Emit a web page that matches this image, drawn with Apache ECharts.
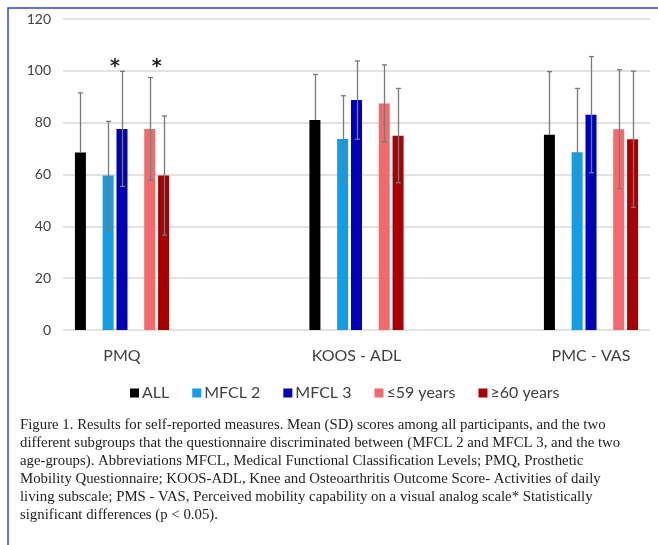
<!DOCTYPE html>
<html>
<head>
<meta charset="utf-8">
<script src="https://cdn.jsdelivr.net/npm/echarts@6/dist/echarts.min.js"></script>
<style>
  html, body { margin: 0; padding: 0; background: #fff; }
  #main { width: 658px; height: 545px; }
</style>
</head>
<body>
<div id="main"></div>
<script>
// data
var categories = ['PMQ', 'KOOS - ADL', 'PMC - VAS'];
var allMean   = [68.5, 81.0, 75.3];
var allSd     = [23.0, 17.6, 24.4];
var mfcl2Mean = [59.6, 73.7, 68.6];
var mfcl2Sd   = [20.9, 16.7, 24.6];
var mfcl3Mean = [77.6, 88.7, 83.1];
var mfcl3Sd   = [22.2, 15.1, 22.4];
var youngMean = [77.6, 87.4, 77.5];
var youngSd   = [19.8, 14.9, 22.9];
var oldMean   = [59.6, 75.0, 73.6];
var oldSd     = [23.0, 18.2, 26.3];
var yMin = 0, yMax = 120, yStep = 20;
// significance stars: [category, slot a, slot b, value]
var sigMarks = [[0, 2, 3, 101.5], [0, 5, 6, 101.5]];

var caption = [
  'Figure 1. Results for self-reported measures. Mean (SD) scores among all participants, and the two',
  'different subgroups that the questionnaire discriminated between (MFCL 2 and MFCL 3, and the two',
  'age-groups). Abbreviations MFCL, Medical Functional Classification Levels; PMQ, Prosthetic',
  'Mobility Questionnaire; KOOS-ADL, Knee and Osteoarthritis Outcome Score- Activities of daily',
  'living subscale; PMS - VAS, Perceived mobility capability on a visual analog scale* Statistically',
  'significant differences (p < 0.05).'
];

var chart = echarts.init(document.getElementById('main'));

var BAR_W = 11, BAR_GAP = '26%';
// slots inside one category, null = empty slot
// upOnly: the lower whisker disappears into the black bar in the figure
var groups = [
  { name: 'ALL', color: '#000000', mean: allMean, sd: allSd, upOnly: true },
  null,
  { name: 'MFCL 2', color: '#139de6', mean: mfcl2Mean, sd: mfcl2Sd },
  { name: 'MFCL 3', color: '#0000bb', mean: mfcl3Mean, sd: mfcl3Sd },
  null,
  { name: '≤59 years', color: '#f46a6c', mean: youngMean, sd: youngSd },
  { name: '≥60 years', color: '#a80000', mean: oldMean, sd: oldSd }
];

var series = [];
var errData = [];
var legendNames = [];
groups.forEach(function (g, slot) {
  if (!g) {
    series.push({ type: 'bar', name: 'gap' + slot, data: categories.map(function () { return '-'; }),
      barWidth: BAR_W, barGap: BAR_GAP, silent: true });
    return;
  }
  legendNames.push(g.name);
  series.push({
    type: 'bar', name: g.name, data: g.mean,
    barWidth: BAR_W, barGap: BAR_GAP,
    itemStyle: { color: g.color }
  });
  g.mean.forEach(function (m, c) { errData.push([c, slot, m, g.sd[c], g.upOnly ? 1 : 0]); });
});

function slotX(api, cat, slot) {
  var layout = api.barLayout({ count: groups.length, barWidth: BAR_W, barGap: BAR_GAP });
  return api.coord([cat, 0])[0] + layout[slot].offsetCenter;
}

// error bars
series.push({
  type: 'custom', name: 'sd', z: 5, silent: true,
  data: errData,
  renderItem: function (params, api) {
    var c = api.value(0), s = api.value(1), m = api.value(2), sd = api.value(3);
    var x = Math.round(slotX(api, c, s)) + 0.5;
    var y1 = api.coord([c, m + sd])[1];
    var y2 = api.value(4) ? api.coord([c, m])[1] : api.coord([c, m - sd])[1];
    var st = { stroke: '#7a7a7a', lineWidth: 1.3 };
    var kids = [
      { type: 'line', shape: { x1: x, y1: y1, x2: x, y2: y2 }, style: st },
      { type: 'line', shape: { x1: x - 2.5, y1: y1, x2: x + 2.5, y2: y1 }, style: st }
    ];
    if (!api.value(4)) {
      kids.push({ type: 'line', shape: { x1: x - 2.5, y1: y2, x2: x + 2.5, y2: y2 }, style: st });
    }
    return { type: 'group', children: kids };
  }
});

// asterisks
series.push({
  type: 'custom', name: 'sig', z: 6, silent: true,
  data: sigMarks,
  renderItem: function (params, api) {
    var c = api.value(0);
    var x = (slotX(api, c, api.value(1)) + slotX(api, c, api.value(2))) / 2;
    var y = api.coord([c, api.value(3)])[1];
    return { type: 'text', x: x, y: y, style: {
      text: '*', fill: '#222', font: 'bold 19px "DejaVu Sans"', align: 'center', verticalAlign: 'middle'
    } };
  }
});

var option = {
  backgroundColor: '#fff',
  animation: false,
  legend: {
    data: legendNames, left: 125, top: 380, icon: 'rect',
    itemWidth: 9, itemHeight: 9, itemGap: 23,
    textStyle: { fontFamily: 'Lato', fontSize: 16, color: '#404040', padding: [0, 0, 0, -2] }
  },
  grid: [
    // bar grid: category centres sit on the grid edges and middle
    { left: 122, width: 469, top: 19, height: 311 },
    // visible frame: gridlines and y labels
    { left: 63, width: 587, top: 19, height: 311 }
  ],
  xAxis: [
    { type: 'category', data: categories, gridIndex: 0, boundaryGap: false,
      axisLine: { show: false }, axisTick: { show: false },
      axisLabel: { margin: 18, fontFamily: 'Lato', fontSize: 16, color: '#404040' } },
    { type: 'value', gridIndex: 1, show: false }
  ],
  yAxis: [
    { type: 'value', gridIndex: 0, min: yMin, max: yMax, show: false, splitLine: { show: false } },
    { type: 'value', gridIndex: 1, min: yMin, max: yMax, interval: yStep,
      axisLine: { show: false }, axisTick: { show: false },
      splitLine: { lineStyle: { color: '#d9d9d9', width: 1.5 } },
      axisLabel: { margin: 12, fontFamily: 'Lato', fontSize: 14, color: '#404040' } }
  ],
  graphic: [
    { type: 'rect', shape: { x: 8, y: 8, width: 720, height: 620 }, silent: true,
      style: { fill: 'none', stroke: '#3346c4', lineWidth: 1.5 } },
    { type: 'text', left: 20, top: 416, silent: true,
      style: { text: caption.join('\n'), font: '14.8px "Liberation Serif"', lineHeight: 18, fill: '#222' } }
  ],
  series: series
};

chart.setOption(option);
</script>
</body>
</html>
